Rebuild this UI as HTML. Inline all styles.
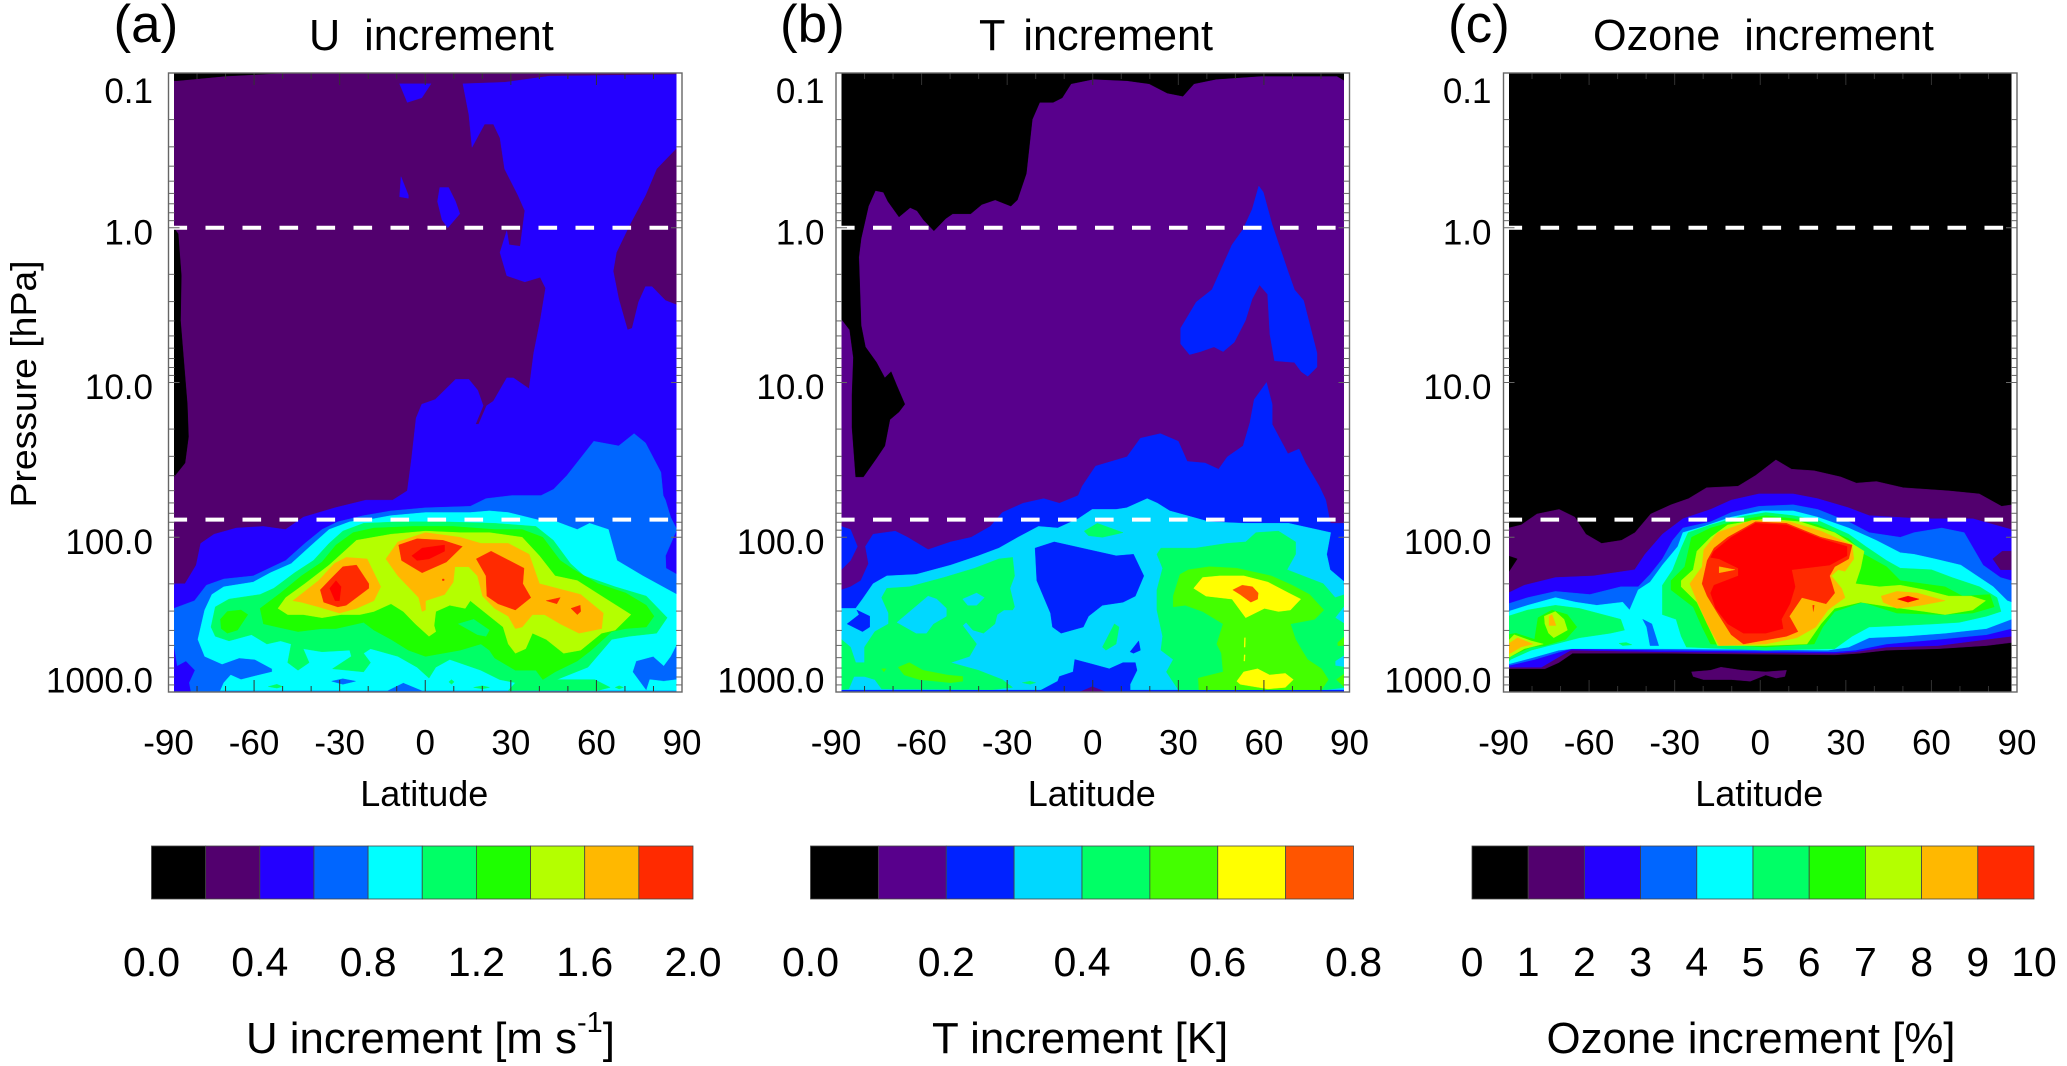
<!DOCTYPE html>
<html lang="en">
<head>
<meta charset="utf-8">
<title>U, T and Ozone increment</title>
<style>
html,body{margin:0;padding:0;background:#fff;}
svg{display:block;font-family:"Liberation Sans",Arial,sans-serif;}
</style>
</head>
<body>
<svg id="figure" xmlns="http://www.w3.org/2000/svg" width="2067" height="1066" viewBox="0 0 2067 1066">
<rect x="0" y="0" width="2067" height="1066" fill="#ffffff"/>
<defs id="clipdefs"></defs>
</svg>
<script>
const latitudeTicks=[-90,-60,-30,0,30,60,90];
const latitudeMinorTicks=[-80,-70,-50,-40,-20,-10,10,20,40,50,70,80];
const pressureLabels=['0.1','1.0','10.0','100.0','1000.0'];
const pressureValues=[0.1,1,10,100,1000];
const dashedPressures=[1,77];
const uColors=['#000000','#52006e','#2400ff','#0066ff','#00ffff','#00ff66','#1eff00','#b4ff00','#ffb800','#ff2a00','#ff0000'];
const tColors=['#000000','#58008c','#0022ff','#00d8ff','#00ff66','#44ff00','#ffff00','#ff5500'];
const uLegendLabels=['0.0','','0.4','','0.8','','1.2','','1.6','','2.0'];
const tLegendLabels=['0.0','','0.2','','0.4','','0.6','','0.8'];
const oLegendLabels=['0','1','2','3','4','5','6','7','8','9','10'];

// Contours: [colour level, lat, log10(p), lat, log10(p), ...] painted in order.
const uContours=[
[0,-88,-1,-49,-1,-70,-.98,-87,-.95,-88,-.95],
[0,-88.1,0,-86.6,.04,-85.5,.31,-85.8,.6,-83.4,1.14,-83,1.35,-84.2,1.52,-88.1,1.61],
[2,13.2,-.93,27.8,-.94,43.5,-.98,88.4,-.99,88.4,-.52,81.1,-.38,77.2,-.21,71.7,-.02,67,.16,65.9,.28,67.8,.46,70.9,.66,72.5,.65,74.8,.48,77.2,.38,79.5,.38,84.2,.47,88.4,.5,88.4,3,-88.1,3,-88.1,2.3,-84.2,2.3,-80.3,2.18,-78.7,2.04,-74,1.98,-66.2,1.94,-56.8,1.93,-49,1.95,-42.7,1.87,-31.7,1.81,-20.8,1.76,-11.4,1.76,-6.3,1.7,-4.8,1.49,-3.2,1.23,-1.2,1.14,3.5,1.11,10.6,.98,15.3,.98,18.4,1.05,20.3,1.15,17.6,1.27,18.7,1.27,21.5,1.15,23.9,1.12,28.6,.97,30.9,.97,36.4,1.04,38,.81,40.3,.6,42.2,.39,40.3,.32,34.9,.35,28.6,.31,26.2,.16,28.6,.02,29.4,.11,33.3,.12,34.9,-.11,32.5,-.21,27.8,-.38,26.2,-.58,23.9,-.67,20.8,-.67,16.4,-.52,15.3,-.73],
[2,-9,-.93,2,-.93,-1.2,-.84,-6.3,-.81],
[2,-8.5,-.33,-5.9,-.21,-5.9,-.19,-9,-.2],
[2,5.1,-.26,8.2,-.26,10.6,-.17,12.1,-.09,7.9,0,5.9,-.05,4.3,-.17],
[3,-88.1,2.46,-80.9,2.41,-76.7,2.31,-70.6,2.27,-60.3,2.25,-48.9,2.15,-42.2,2.04,-36.2,1.95,-30.7,1.9,-21.6,1.86,-12,1.83,.1,1.81,15.8,1.8,21.3,1.75,30.4,1.73,40.6,1.73,45,1.69,49.7,1.6,59.1,1.38,67.8,1.41,73.2,1.33,77.2,1.39,82.6,1.58,83.4,1.73,84.2,1.76,86,1.87,88.2,1.95,84.2,2.12,84.4,2.2,88.2,2.24,88.2,3,-82.1,3,-82.7,2.94,-80.7,2.86,-83.9,2.8,-86.9,2.83,-87.9,2.72,-88.1,2.71],
[4,-77.3,2.47,-74.8,2.37,-70.6,2.32,-60.3,2.29,-54.3,2.23,-47,2.17,-39.8,2.05,-33.7,1.95,-26.5,1.9,-18,1.88,-12,1.86,.1,1.84,15.8,1.84,22.5,1.83,29.1,1.84,40,1.89,46.1,1.9,53.3,1.95,57.6,1.91,64.2,1.95,67.2,2.15,76.3,2.25,88.2,2.37,88.2,2.69,86,2.77,83.6,2.83,79.9,2.77,73.9,2.8,72.7,2.87,77.5,2.99,-1.1,2.99,-7.7,2.94,-13.2,2.99,-71.8,2.99,-70.6,2.94,-68.2,2.89,-64.6,2.92,-60.3,2.9,-53.7,2.87,-53.7,2.85,-59.7,2.79,-65.2,2.78,-71.2,2.82,-77.3,2.77,-79.7,2.66],
[4,78.7,2.92,83.6,2.93,88.2,2.92,88.2,2.99,77.5,2.99],
[3,-32.8,2.93,-28.9,2.915,-24.4,2.93,-28.9,2.95],
[5,-75.1,2.58,-73.6,2.45,-68.8,2.4,-57.9,2.37,-53.1,2.33,-45.8,2.23,-39.2,2.15,-33.7,2.04,-28.9,1.96,-21.6,1.91,-9.6,1.9,6.2,1.9,24.3,1.91,38.8,1.93,44.9,2.02,50.9,2.17,55.7,2.25,66.6,2.32,77.5,2.38,84.8,2.52,81.1,2.62,71.5,2.64,65.4,2.66,57,2.84,46.1,2.92,59.4,2.92,64.8,2.97,60.6,2.99,29.1,2.99,31.6,2.94,26.1,2.92,19.5,2.86,8.6,2.79,3.7,2.84,1.3,2.91,-2.9,2.84,-9.6,2.77,-19.2,2.72,-21.6,2.75,-19.2,2.81,-21.6,2.87,-32.5,2.85,-25.9,2.77,-26.5,2.73,-36.2,2.74,-42.8,2.72,-40.7,2.81,-44.6,2.86,-48.2,2.81,-47,2.69,-50.7,2.67,-55.5,2.69,-60.9,2.63,-68.8,2.67,-73.6,2.64],
[5,-55,2.965,-52,2.95,-50,2.965,-52,2.975],
[5,8.3,2.935,9.2,2.92,10.1,2.935,9.2,2.95],
[5,17,2.97,20,2.96,22.5,2.97,20,2.98],
[5,66.6,2.97,68,2.96,69.5,2.97,68,2.98],
[6,-57.9,2.46,-50.7,2.36,-43.4,2.25,-36.2,2.16,-31.3,2.05,-25.3,1.97,-18,1.94,-4.7,1.93,9.8,1.93,24.3,1.95,34,1.95,41.2,2,47.3,2.15,52.1,2.21,60.6,2.3,70.3,2.36,77.5,2.44,80.2,2.51,77.5,2.58,70.3,2.59,65.4,2.61,58.2,2.73,53.3,2.8,45.5,2.87,41.2,2.92,38.8,2.86,31.6,2.86,24.3,2.78,22.5,2.73,19.5,2.69,12.2,2.73,.1,2.77,-5.9,2.73,-12,2.66,-18,2.6,-21.6,2.55,-31.3,2.59,-36.2,2.59,-44.6,2.61,-51.9,2.58,-56.7,2.56],
[5,11.6,2.56,17,2.53,22.5,2.6,21.3,2.64,18.3,2.63],
[6,-71.8,2.53,-69.4,2.48,-64.6,2.47,-62.2,2.5,-65.8,2.6,-69.4,2.62,-71.5,2.59],
[7,-51.6,2.46,-48.9,2.39,-42.2,2.3,-33.7,2.18,-28.9,2.1,-24.1,2.02,-12,1.98,.1,1.96,12.2,1.97,22.5,1.97,34,2,40,2.12,45.5,2.25,53.3,2.28,61.8,2.38,72.1,2.5,66.6,2.6,61.8,2.62,54.5,2.73,48.5,2.75,42.4,2.66,37.6,2.62,35.2,2.72,31.6,2.75,29.1,2.69,27.3,2.58,15.8,2.41,14,2.46,8.6,2.44,3.7,2.48,3.1,2.57,3.7,2.61,1.3,2.64,-3.5,2.56,-7.7,2.48,-12,2.43,-18,2.48,-22.9,2.5,-29.5,2.5,-36.2,2.52,-42.8,2.5,-48.2,2.5],
[8,-46.4,2.41,-37.4,2.28,-31.9,2.17,-27.7,2.13,-20.4,2.14,-15.6,2.32,-18,2.41,-24.1,2.46,-30.1,2.49,-37.4,2.45,-43.4,2.42],
[8,-13.8,2.14,-9.6,2.03,.1,1.97,12.2,2,19.5,2.04,29.1,2.04,36.4,2.11,40,2.3,46.1,2.33,54.5,2.37,62.4,2.49,61.8,2.59,53.9,2.62,47.3,2.56,41.8,2.5,37.6,2.5,34,2.58,31.6,2.59,29.1,2.51,24.3,2.46,20.1,2.38,18.3,2.25,15.2,2.19,10.4,2.19,9.8,2.29,6.8,2.37,.1,2.41,.1,2.47,-1.1,2.48,-2.3,2.39,-9.6,2.25],
[9,-36.8,2.34,-33.7,2.28,-28.9,2.19,-24.1,2.18,-19.8,2.3,-19.8,2.33,-27.7,2.44,-30.7,2.45,-35.6,2.42],
[9,-9.3,2.05,-2.9,2.01,6.2,2.02,13,2.06,7.4,2.16,-1.1,2.23,-8.3,2.15],
[9,17.9,2.14,23.1,2.09,34.6,2.2,34.2,2.3,37,2.39,31.6,2.47,25.5,2.43,21.6,2.38,21.3,2.25],
[9,42.4,2.41,47.3,2.39,46.1,2.43],
[9,51.1,2.46,54.3,2.44,54.5,2.48,53.3,2.5],
[9,6,2.27,6.6,2.27,6.6,2.28,6,2.28],
[10,-33.5,2.33,-31.3,2.28,-29.5,2.32,-30.1,2.41,-31.6,2.41],
[10,-4.7,2.12,-1.1,2.07,6.8,2.05,6.8,2.09,1.3,2.14,-2.9,2.15]
];

const tContours=[
[0,-88.1,-1,88.3,-1,88.3,-.95,85.6,-.98,79.4,-.98,59,-.98,43.3,-.96,35.5,-.93,31.6,-.85,26.1,-.87,19.8,-.93,12,-.95,.2,-.96,-7.6,-.93,-10.7,-.84,-13.9,-.81,-18.6,-.81,-21.2,-.7,-23.3,-.35,-26.4,-.18,-28.7,-.14,-34.2,-.18,-38.9,-.15,-42.8,-.09,-49.1,-.09,-51.5,-.06,-55.7,.02,-59.3,-.05,-61.6,-.11,-64,-.13,-67.9,-.07,-71.8,-.17,-73.4,-.23,-76.2,-.24,-78.6,-.14,-81.2,.07,-82,.19,-81.2,.63,-79.7,.77,-75.8,.87,-72.9,.97,-70.7,.93,-68.7,1.02,-65.9,1.14,-67.9,1.19,-71.1,1.24,-72.9,1.41,-75.8,1.49,-80.4,1.61,-83.1,1.61,-84.4,1.29,-84.4,1.08,-83.9,.84,-85.2,.66,-88.1,.59],
[2,30.8,.65,36.3,.48,41.8,.4,48.8,.11,52.7,.01,55.9,-.12,58.2,-.27,59.8,-.23,62.9,-.02,68.4,.28,70.7,.4,73.9,.47,78.6,.81,78.6,.9,75.4,.96,73.1,.93,70.7,.87,63.7,.86,62.1,.69,61.3,.43,58.5,.37,55.9,.46,53.5,.6,49.6,.74,45.7,.8,42.5,.77,37.8,.8,33.9,.82,30.8,.75],
[2,-88.1,2.34,-84.9,2.32,-81.3,2.28,-78.6,2.17,-79.7,2.06,-77,1.98,-69.2,1.96,-64.9,2,-57.7,2.08,-49.8,2.03,-42.6,2,-35.9,1.93,-31.7,1.84,-24.4,1.78,-17.2,1.75,-11.7,1.78,-5.1,1.73,-3.7,1.67,1,1.54,12,1.48,16.7,1.36,23.7,1.33,30,1.38,33.1,1.51,39.4,1.52,44.1,1.56,47.2,1.48,52.7,1.41,55.1,1.26,56.6,1.11,60.9,1,62.9,1.14,62.9,1.27,68.4,1.46,72.3,1.43,74.6,1.52,79.4,1.67,81.7,1.76,83.3,1.91,88.3,1.91,88.3,3,-88.1,3],
[2,-88.1,1.93,-84.9,1.95,-82.5,2.06,-84.9,2.15,-88.1,2.21],
[3,-88.1,2.46,-83.1,2.46,-80.7,2.4,-77,2.3,-72.2,2.25,-61.9,2.24,-49.8,2.18,-40.1,2.12,-32.9,2.07,-26.2,2,-19,1.93,-12.3,1.94,-5.1,1.88,-.2,1.82,8.2,1.82,11.9,1.81,19.1,1.75,22.7,1.78,27,1.83,40.9,1.9,53,1.91,68.7,1.91,83.4,1.97,82,2.11,83.2,2.21,88.3,2.29,88.3,2.985,-88.1,2.985],
[2,-20.2,2.07,-13.5,2.03,-1.5,2.08,8.2,2.12,14.3,2.11,17.9,2.25,14.9,2.38,10.6,2.42,3.4,2.44,-1.5,2.51,-3.3,2.58,-11.1,2.62,-14.1,2.58,-14.8,2.49,-19.6,2.28],
[2,-18.4,2.99,-12.3,2.93,-11.7,2.9,-6.9,2.87,-6.3,2.79,-.2,2.82,5.8,2.85,10.6,2.81,14.9,2.81,15.5,2.86,13.1,2.95,13.1,2.99],
[2,13.1,2.74,16.1,2.67,16.7,2.73,14.3,2.75],
[2,-82.7,2.47,-78.2,2.51,-78.2,2.58,-80.7,2.61,-86.1,2.56,-81.9,2.5],
[1,-4.5,3,-.2,2.965,4.6,3],
[4,-74,2.39,-72.2,2.33,-64.3,2.32,-52.2,2.26,-41.4,2.2,-32.9,2.14,-28.1,2.13,-27.4,2.25,-29,2.33,-27.4,2.45,-28.1,2.47,-31.1,2.47,-33.5,2.5,-34.3,2.56,-38.3,2.62,-42,2.6,-44.4,2.55,-45.6,2.57,-40.7,2.69,-43.2,2.77,-49.8,2.81,-40.1,2.86,-31.7,2.92,-28.1,2.97,-35.3,2.985,-74,2.98,-76.4,2.92,-80,2.9,-83.7,2.9,-85.5,2.98,-88.1,2.985,-88.1,2.66,-84.9,2.71,-83.1,2.81,-80,2.81,-80,2.71,-76.4,2.61,-71.6,2.56,-71.6,2.49],
[3,-68.6,2.55,-57.7,2.38,-54.7,2.4,-51.3,2.46,-51.3,2.51,-55.9,2.56,-58.3,2.62,-61.9,2.62],
[3,-45.6,2.4,-40.7,2.36,-38,2.39,-40.7,2.44,-43.8,2.44],
[4,-3,1.96,1.6,1.91,10.6,1.97,3.4,2,-1.5,1.99],
[4,3.4,2.71,7.6,2.56,9.2,2.58,8.2,2.69,4.6,2.73],
[4,-24.7,2.94,-22,2.93,-20,2.94,-22,2.95],
[4,22.5,2.11,23.9,2.07,36,2.07,46.9,2.04,53.6,2.03,57.2,1.97,65.1,1.96,71.1,2.03,71.1,2.11,68.1,2.21,80.8,2.3,85,2.39,88.3,2.37,88.3,2.44,85,2.52,88.3,2.56,88.3,2.76,85,2.8,85,2.83,88.3,2.84,88.3,2.97,82,2.985,30,2.985,25.8,2.87,28.2,2.79,23.9,2.73,24.5,2.64,22.5,2.47,22.5,2.34,24.5,2.2],
[5,28.2,2.38,30.6,2.24,33.6,2.21,40.9,2.19,50.5,2.2,62.6,2.25,69.9,2.31,76,2.37,81,2.47,77.8,2.53,69.3,2.56,71.1,2.66,73.3,2.73,75.3,2.79,80.2,2.85,82.6,2.92,80.2,2.985,37.2,2.985,37,2.91,45.7,2.87,45.1,2.75,43.5,2.69,45.7,2.56,38.5,2.48,32.4,2.44,28.2,2.45],
[5,-68.2,2.84,-64.3,2.81,-59.5,2.86,-51,2.89,-45.6,2.9,-45.6,2.93,-49.8,2.94,-60.7,2.92,-66.1,2.89],
[5,-74,2.85,-72.4,2.85,-73.2,2.87],
[5,85.9,2.68,88.3,2.64,88.3,2.7,85.9,2.7],
[5,85.4,2.92,88.3,2.88,88.3,2.97],
[6,35.4,2.33,38.5,2.26,44.5,2.25,53,2.25,61.4,2.29,68.7,2.36,72.9,2.4,69.3,2.47,65.1,2.48,60.2,2.46,53.6,2.52,48.8,2.4,39.7,2.38],
[6,50.5,2.93,52.9,2.87,57.8,2.85,62,2.89,67.5,2.88,70.3,2.92,67.5,2.97,61.4,2.98,51.7,2.95],
[6,53.2,2.65,53.5,2.65,53.4,2.71,53.1,2.71],
[6,53.1,2.76,53.4,2.76,53.3,2.8,53,2.8],
[7,49.1,2.34,52.4,2.31,56,2.32,58,2.36,57.8,2.4,55.4,2.42,51.7,2.37]
];

const oContours=[
[1,-88.2,1.94,-83.8,1.92,-78.3,1.85,-70.5,1.82,-65,1.87,-61.1,1.98,-55.6,2.04,-48.6,2.02,-43.9,1.97,-38.4,1.85,-31.3,1.79,-25.1,1.75,-18.8,1.68,-7.8,1.67,-1.6,1.6,5.5,1.5,11,1.56,18.8,1.57,28.2,1.61,33.7,1.65,40.7,1.64,50.1,1.68,65.8,1.7,76.8,1.72,84.6,1.8,88.2,1.79,88.2,2.68,79.3,2.7,62.4,2.72,44.3,2.73,34.6,2.75,26.1,2.76,-34.3,2.75,-65.8,2.75,-70.6,2.81,-75.5,2.85,-88.4,2.85],
[0,-88.4,2.12,-85.2,2.14,-88.4,2.23],
[1,-24.1,2.87,-17.4,2.86,-13.8,2.84,-6.5,2.86,1.9,2.87,9.2,2.86,8.6,2.9,5.6,2.91,1.9,2.89,-3.5,2.93,-10.2,2.92,-19.9,2.92,-23.5,2.9],
[2,-88.4,2.36,-82.7,2.31,-71.8,2.26,-58.5,2.25,-44,2.21,-40.4,2.11,-34.3,1.98,-27.1,1.88,-17.4,1.82,-10.2,1.76,-.5,1.72,11.6,1.72,20.1,1.75,31,1.81,38.2,1.86,56.3,1.88,74.5,1.88,88,1.95,88,2.64,79.3,2.66,62.4,2.7,44.3,2.71,33.4,2.74,26.1,2.75,-34.3,2.74,-66.4,2.73,-71.2,2.78,-76.7,2.84,-88.4,2.84],
[1,81.5,2.14,84.8,2.09,88,2.09,88,2.21,84.2,2.21],
[3,-88.4,2.43,-81.5,2.39,-71.8,2.35,-59.7,2.37,-48.9,2.32,-42.8,2.32,-38.6,2.24,-34.3,2.14,-30.7,2.02,-27.1,1.94,-17.4,1.9,-10.2,1.84,-.5,1.8,11.6,1.79,20.1,1.82,31,1.9,38.2,1.97,49.1,2,53.9,1.97,63.6,1.94,71.5,1.97,78.1,2.18,84.2,2.26,88,2.28,88,2.59,79.3,2.63,62.4,2.66,44.3,2.69,33.4,2.73,26.1,2.74,-34.3,2.73,-66.4,2.72,-71.8,2.75,-79.1,2.79,-88.4,2.83],
[4,-88.4,2.48,-81.5,2.44,-71.8,2.39,-64.6,2.42,-57.3,2.44,-48.2,2.42,-45.8,2.47,-42.8,2.34,-38.6,2.29,-34.3,2.18,-28.9,2.06,-27.1,1.97,-19.8,1.93,-10.2,1.87,.7,1.83,11.6,1.83,20.1,1.87,31,1.94,40.6,2.02,49.1,2.1,53.9,2.11,61.2,2.14,70.3,2.18,81.7,2.32,86.6,2.41,88,2.42,88,2.53,79.3,2.59,64.8,2.62,50.3,2.64,38.2,2.65,31,2.71,23.7,2.73,-34.3,2.72,-65.8,2.72,-70.6,2.73,-80.3,2.78,-88.4,2.82],
[3,-41.2,2.53,-38,2.56,-35.6,2.7,-38.6,2.7,-39.8,2.58],
[5,-34.3,2.31,-30.7,2.21,-27.7,2.07,-25.3,1.97,-17.4,1.92,-7.7,1.87,1.9,1.84,11.6,1.86,20.1,1.89,31,1.98,37,2.06,44.3,2.15,49.1,2.2,60,2.21,67.2,2.26,76.9,2.32,83,2.39,84.4,2.48,79.3,2.51,69.7,2.55,61.2,2.56,50.3,2.57,38.2,2.58,32.2,2.64,26.1,2.72,1.9,2.73,-25.9,2.71,-27.7,2.64,-29.5,2.53,-34.3,2.5],
[5,-88.4,2.51,-81.5,2.47,-71.8,2.44,-63.4,2.46,-48.9,2.53,-47.6,2.6,-52.5,2.62,-63.4,2.65,-71.8,2.69,-80.3,2.73,-87.5,2.79,-88.4,2.81],
[5,-49.5,2.685,-47,2.68,-45,2.695,-48.2,2.7],
[6,-31.3,2.28,-26.5,2.19,-24.1,2,-17.4,1.94,-7.7,1.89,1.9,1.86,11.6,1.88,20.1,1.92,31,2.01,36.4,2.11,44.3,2.19,49.1,2.28,64.8,2.32,70.9,2.38,80.5,2.37,82,2.45,74.5,2.49,63.6,2.5,47.9,2.49,35.8,2.42,26.1,2.48,21.9,2.58,18.9,2.69,1.9,2.71,-17.4,2.69,-20.4,2.58,-23.5,2.45,-31.3,2.34],
[6,-88.4,2.63,-85.7,2.62,-79.1,2.66,-77.9,2.52,-73,2.47,-67.6,2.5,-64.3,2.58,-68.2,2.66,-75.5,2.7,-80.3,2.71,-87.5,2.77,-88.4,2.8],
[7,-27.7,2.28,-23.5,2.21,-22.2,2.09,-17.4,2,-11.4,1.92,1.9,1.88,14,1.9,26.1,1.97,36.4,2.09,35.2,2.2,33.4,2.3,41.8,2.32,49.1,2.31,57.6,2.34,66,2.38,73.9,2.38,79,2.41,74.5,2.47,64.8,2.5,57.6,2.48,45.5,2.45,35.2,2.42,26.1,2.46,21.3,2.56,16.4,2.69,1.9,2.7,-15,2.7,-18.6,2.56,-22.2,2.42,-27.7,2.32],
[7,-75.7,2.51,-71.8,2.48,-68.8,2.53,-67.6,2.6,-72.4,2.65,-74.2,2.62,-75.5,2.56],
[7,-88.4,2.67,-86.3,2.63,-80.3,2.67,-76.1,2.69,-82.7,2.72,-87.5,2.77,-88.4,2.79],
[8,-24.7,2.3,-20.4,2.19,-19.8,2.08,-15,1.97,-2.9,1.89,10.4,1.9,21.3,1.96,32.2,2.05,32.8,2.14,29.7,2.22,27.3,2.21,24.9,2.25,28.5,2.33,29.7,2.39,23.7,2.47,19.5,2.58,12.8,2.65,1.9,2.69,-14.4,2.7,-18.6,2.56,-22.2,2.41],
[8,42.4,2.38,47.9,2.35,55.1,2.36,64.8,2.41,56.3,2.44,47.9,2.46,43.1,2.42],
[8,-74,2.51,-73,2.5,-71.6,2.57,-74,2.57],
[8,-88.4,2.69,-85.1,2.65,-79.7,2.69,-83.9,2.71,-87.5,2.75,-88.4,2.75],
[9,-20.4,2.3,-18.6,2.15,-16.2,2.07,-11.4,2,-1.7,1.9,9.2,1.91,21.3,2,32.2,2.05,31,2.14,26.1,2.19,24.3,2.25,26.1,2.36,23.1,2.43,14.6,2.39,10.2,2.51,13.2,2.61,9.2,2.64,-5.9,2.69,-10.2,2.63,-15,2.49,-18.6,2.38],
[10,-16.2,2.09,-10.2,2,-1.7,1.91,9.2,1.92,21.3,2.01,30.4,2.06,30.4,2.12,24.3,2.18,11,2.21,12.2,2.32,10.4,2.43,7.4,2.53,8,2.59,1.9,2.62,-5.9,2.62,-11.4,2.56,-15.6,2.46,-17.4,2.36,-16.2,2.31,-7.7,2.25,-7.7,2.2,-14.4,2.14,-17.4,2.13],
[8,-14.4,2.19,-8.9,2.21,-14.4,2.23],
[10,48.1,2.4,51.8,2.38,55.7,2.4,51.8,2.42],
[9,18.4,2.44,18.9,2.44,18.6,2.48]
];

const SVGNS='http://www.w3.org/2000/svg';
const svg=document.getElementById('figure');
const clipdefs=document.getElementById('clipdefs');
const PLOT_TOP=73, PLOT_BOTTOM=692, PLOT_WIDTH=513.5;
const yScale=function(logP){return PLOT_TOP+(logP+1)/4*(PLOT_BOTTOM-PLOT_TOP);};

function make(tag,attrs,parent,text){
  const el=document.createElementNS(SVGNS,tag);
  for(const k in attrs){el.setAttribute(k,attrs[k]);}
  if(text!==undefined){el.textContent=text;}
  parent.appendChild(el);
  return el;
}

function drawPanel(cfg){
  const g=make('g',{},svg);
  
  
  const xScale=function(lat){return cfg.left+(lat+90)/180*PLOT_WIDTH;};
  const right=cfg.left+PLOT_WIDTH;

  const clip=make('clipPath',{id:'clip-'+cfg.id},clipdefs);
  make('rect',{x:cfg.left+5.5,y:PLOT_TOP,width:PLOT_WIDTH-11,height:PLOT_BOTTOM-PLOT_TOP},clip);

  const field=make('g',{'clip-path':'url(#clip-'+cfg.id+')'},g);
  
  
  const base=make('rect',{x:cfg.left,y:PLOT_TOP,width:PLOT_WIDTH,height:PLOT_BOTTOM-PLOT_TOP,fill:cfg.colors[cfg.baseLevel]},field);
  
  
  cfg.contours.forEach(function(c){
    const pts=[];
    for(let i=1;i<c.length;i+=2){
      pts.push(xScale(c[i]).toFixed(1)+','+yScale(c[i+1]).toFixed(1));
    }
    const poly=make('polygon',{points:pts.join(' '),fill:cfg.colors[c[0]],stroke:cfg.colors[c[0]],'stroke-width':'0.4','stroke-linejoin':'round'},field);
    
    
  });

  dashedPressures.forEach(function(p){
    const yy=yScale(Math.log10(p));
    const d=make('line',{x1:cfg.left,y1:yy,x2:right-11,y2:yy,stroke:'#ffffff','stroke-width':'4','stroke-dasharray':'18.6 18.4'},g);
    
    
  });

  const ticks=make('g',{stroke:'#333333','stroke-width':'1',fill:'none'},g);
  
  
  latitudeTicks.concat(latitudeMinorTicks).forEach(function(lat){
    const len=latitudeTicks.indexOf(lat)>=0?12:6;
    const xx=xScale(lat);
    make('line',{x1:xx,y1:PLOT_BOTTOM,x2:xx,y2:PLOT_BOTTOM-len},ticks);
    make('line',{x1:xx,y1:PLOT_TOP,x2:xx,y2:PLOT_TOP+len},ticks);
  });
  for(let d=-1;d<3;d++){
    for(let m=1;m<10;m++){
      const yy=yScale(d+Math.log10(m));
      const len=m===1?11:6;
      make('line',{x1:cfg.left,y1:yy,x2:cfg.left+len,y2:yy,stroke:'#666666'},ticks);
      make('line',{x1:right,y1:yy,x2:right-len,y2:yy,stroke:'#666666'},ticks);
    }
  }

  const box=make('rect',{x:cfg.left,y:PLOT_TOP,width:PLOT_WIDTH,height:PLOT_BOTTOM-PLOT_TOP,fill:'none',stroke:'#666666','stroke-width':'1.4'},g);
  
  

  latitudeTicks.forEach(function(lat){
    const t=make('text',{x:xScale(lat),y:754.5,'font-size':'35','text-anchor':'middle',fill:'#000'},g,String(lat));
    
    
  });
  pressureValues.forEach(function(p,i){
    const shift=i===0?30:(i===pressureValues.length-1?0.5:16.5);
    const t=make('text',{x:cfg.left-cfg.labelGap,y:yScale(Math.log10(p))+shift,'font-size':'35','text-anchor':'end',fill:'#000'},g,pressureLabels[i]);
    
    
  });
  const xt=make('text',{x:cfg.left+PLOT_WIDTH/2-1,y:806,'font-size':'36','text-anchor':'middle',fill:'#000'},g,'Latitude');
  
  

  const title=make('text',{x:cfg.titleX,y:50,'font-size':'43.2','word-spacing':cfg.titleSpacing,fill:'#000'},g,cfg.title);
  
  
  const tag=make('text',{x:cfg.tagX,y:42,'font-size':'53',fill:'#000'},g,cfg.tag);
  
  

  const lg=make('g',{},g);
  
  
  const n=cfg.legendLabels.length-1;
  const legendX=function(i){return cfg.barLeft+i/n*(cfg.barRight-cfg.barLeft);};
  for(let i=0;i<n;i++){
    const cell=make('rect',{x:legendX(i),y:846,width:legendX(i+1)-legendX(i),height:53,fill:cfg.colors[i],stroke:'#444444','stroke-width':'0.8'},lg);
    
    
  }
  cfg.legendLabels.forEach(function(label,i){
    if(!label){return;}
    const t=make('text',{x:legendX(i),y:976,'font-size':'41','text-anchor':'middle',fill:'#000'},lg,label);
    
    
  });
  const bt=make('text',{x:cfg.unitX,y:1053,'font-size':'43.8',fill:'#000'},g);
  
  
  make('tspan',{},bt,cfg.unitText);
  if(cfg.unitSup){
    make('tspan',{dy:'-21','font-size':'29'},bt,cfg.unitSup);
    make('tspan',{dy:'21'},bt,cfg.unitEnd);
  }
}

drawPanel({id:'u',left:168.5,labelGap:15.5,colors:uColors,baseLevel:1,contours:uContours,title:'U\u00a0\u00a0increment',titleSpacing:'0',titleX:309,tag:'(a)',tagX:113.5,barLeft:151.5,barRight:693,legendLabels:uLegendLabels,unitX:246,unitText:'U increment [m s',unitSup:'-1',unitEnd:']'});
drawPanel({id:'t',left:836,labelGap:11.5,colors:tColors,baseLevel:1,contours:tContours,title:'T\u00a0\u00a0increment',titleSpacing:'-3',titleX:979,tag:'(b)',tagX:780,barLeft:810.5,barRight:1353.5,legendLabels:tLegendLabels,unitX:932,unitText:'T increment [K]'});
drawPanel({id:'ozone',left:1503.5,labelGap:12,colors:uColors,baseLevel:0,contours:oContours,title:'Ozone\u00a0\u00a0increment',titleSpacing:'0',titleX:1593,tag:'(c)',tagX:1448,barLeft:1472,barRight:2034,legendLabels:oLegendLabels,unitX:1546.5,unitText:'Ozone increment [%]'});

const yTitle=make('text',{transform:'translate(36,384) rotate(-90)','font-size':'36','text-anchor':'middle',fill:'#000',textLength:'247',lengthAdjust:'spacingAndGlyphs'},svg,'Pressure [hPa]');


</script>
</body>
</html>
